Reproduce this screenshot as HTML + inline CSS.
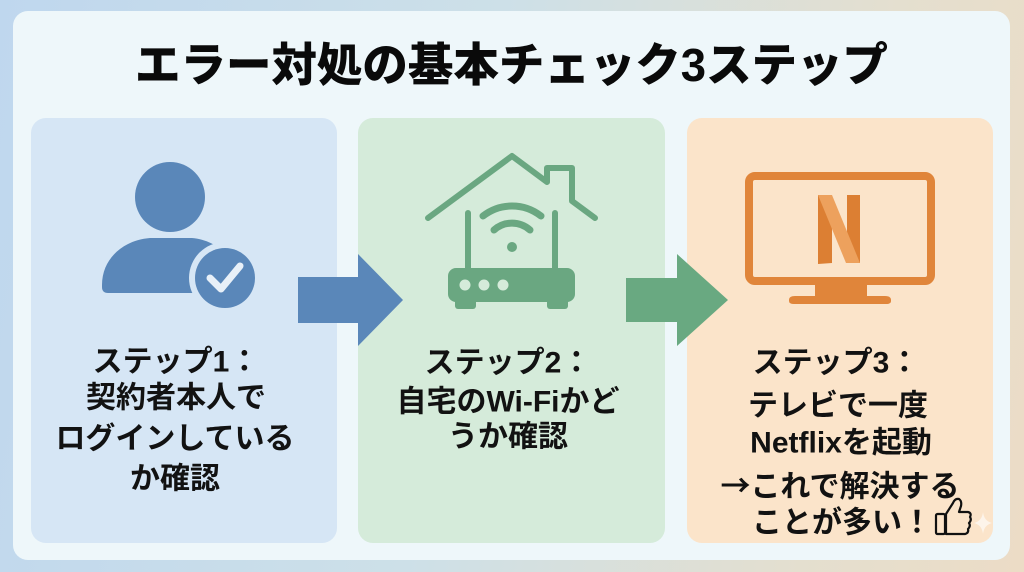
<!DOCTYPE html>
<html>
<head>
<meta charset="utf-8">
<style>
  html,body{margin:0;padding:0;width:1024px;height:572px;overflow:hidden;}
  body{background:linear-gradient(100deg,#bfd7ee 0%,#cde0e8 45%,#e4dfcf 80%,#ecdcc6 100%);}
  svg{position:absolute;left:0;top:0;}
  .t{font-family:"Liberation Sans","Noto Sans CJK JP",sans-serif;font-weight:700;fill:#121212;font-size:30px;}
  .cjk{font-family:"Noto Sans CJK JP",sans-serif;}
  .title{font-family:"Liberation Sans","Noto Sans CJK JP",sans-serif;font-weight:900;fill:#0a0a0a;font-size:46px;}
</style>
</head>
<body>
<svg width="1024" height="572" viewBox="0 0 1024 572" xmlns="http://www.w3.org/2000/svg">
  <!-- card -->
  <rect x="13" y="11" width="997" height="549" rx="15" fill="#eef7fa"/>
  <!-- title -->
  <text class="title" x="511.5" y="81" text-anchor="middle" textLength="753" lengthAdjust="spacingAndGlyphs">エラー対処の基本チェック3ステップ</text>

  <!-- panels -->
  <rect x="31" y="118" width="306" height="425" rx="15" fill="#d6e6f5"/>
  <rect x="358" y="118" width="307" height="425" rx="15" fill="#d5ebda"/>
  <rect x="687" y="118" width="306" height="425" rx="15" fill="#fbe4ca"/>

  <!-- person icon -->
  <circle cx="170" cy="197" r="35" fill="#5a87b9"/>
  <path d="M102,285 C102,258 124,240 150,238 L192,238 C216,240 238,258 238,285 L238,287 Q238,293 232,293 L108,293 Q102,293 102,287 Z" fill="#5a87b9"/>
  <circle cx="225" cy="278" r="36" fill="#d6e6f5"/>
  <circle cx="225" cy="278" r="30" fill="#5a87b9"/>
  <polyline points="210,278 221,289 240,266" fill="none" stroke="#e8f0f8" stroke-width="7" stroke-linecap="round" stroke-linejoin="round"/>

  <!-- house / router icon -->
  <g fill="none" stroke="#6aa781" stroke-width="6" stroke-linecap="round" stroke-linejoin="round">
    <path d="M428,218 L512,156 L547,182 L547,168 L572,168 L572,201 L595,218"/>
    <line x1="468" y1="213" x2="468" y2="270"/>
    <line x1="555" y1="213" x2="555" y2="270"/>
    <path d="M483,216 A47,47 0 0 1 541,216" stroke-width="7"/>
    <path d="M494,230 A27,27 0 0 1 530,230" stroke-width="7"/>
  </g>
  <circle cx="512" cy="247" r="5" fill="#6aa781"/>
  <rect x="448" y="268" width="127" height="34" rx="8" fill="#6aa781"/>
  <circle cx="465" cy="285" r="5.5" fill="#d5ebda"/>
  <circle cx="484" cy="285" r="5.5" fill="#d5ebda"/>
  <circle cx="503" cy="285" r="5.5" fill="#d5ebda"/>
  <rect x="455" y="299" width="21" height="10" rx="3" fill="#6aa781"/>
  <rect x="547" y="299" width="21" height="10" rx="3" fill="#6aa781"/>

  <!-- TV icon -->
  <rect x="749" y="176" width="182" height="105" rx="6" fill="none" stroke="#e0853a" stroke-width="8"/>
  <rect x="815" y="283" width="52" height="14" fill="#e0853a"/>
  <path d="M795,296 L885,296 Q891,296 891,300 L891,301 Q891,304 886,304 L794,304 Q789,304 789,301 L789,300 Q789,296 795,296 Z" fill="#e0853a"/>
  <polygon points="818,195 832,195 832,263 818,264" fill="#dc7f33"/>
  <polygon points="847,195 860,195 860,263 847,263" fill="#dc7f33"/>
  <polygon points="818,195 832,195 860,263 846,263" fill="#eda15d"/>

  <!-- arrows -->
  <polygon points="298,277 358,277 358,254 403,300 358,346 358,323 298,323" fill="#5a87b9"/>
  <polygon points="626,278 677,278 677,254 728,300 677,346 677,322 626,322" fill="#69a981"/>

  <!-- panel 1 text -->
  <text class="t" x="176" y="371.5" text-anchor="middle">ステップ1：</text>
  <text class="t" x="176" y="407.5" text-anchor="middle">契約者本人で</text>
  <text class="t" x="175" y="448.5" text-anchor="middle">ログインしている</text>
  <text class="t" x="175" y="488.5" text-anchor="middle">か確認</text>

  <!-- panel 2 text -->
  <text class="t" x="508" y="372.5" text-anchor="middle">ステップ2：</text>
  <text class="t" x="508" y="411.5" text-anchor="middle">自宅のWi-Fiかど</text>
  <text class="t" x="508" y="446.5" text-anchor="middle">うか確認</text>

  <!-- panel 3 text -->
  <text class="t" x="836" y="372.5" text-anchor="middle">ステップ3：</text>
  <text class="t" x="838" y="415.5" text-anchor="middle">テレビで一度</text>
  <text class="t" x="841" y="452.5" text-anchor="middle">Netflixを起動</text>
  <text class="t" x="840" y="496.5" text-anchor="middle"><tspan class="cjk">→</tspan>これで解決する</text>
  <text class="t" x="842" y="532.5" text-anchor="middle">ことが多い！</text>

  <!-- thumbs up -->
  <g fill="none" stroke="#111" stroke-width="2.2" stroke-linejoin="round">
    <rect x="936" y="514" width="9" height="20" rx="1.5"/>
    <path d="M946,514 L953,503 Q955,498 959,499 Q962,501 961,506 L959,512 L968,512 Q972,513 970,517 Q972,520 969,523 Q971,526 968,529 Q969,533 965,534 L946,534 Z"/>
  </g>

  <!-- sparkle -->
  <path d="M983,512 Q984,521 992,523 Q984,525 983,534 Q982,525 974,523 Q982,521 983,512 Z" fill="#ffffff" opacity="0.6"/>
</svg>
</body>
</html>
